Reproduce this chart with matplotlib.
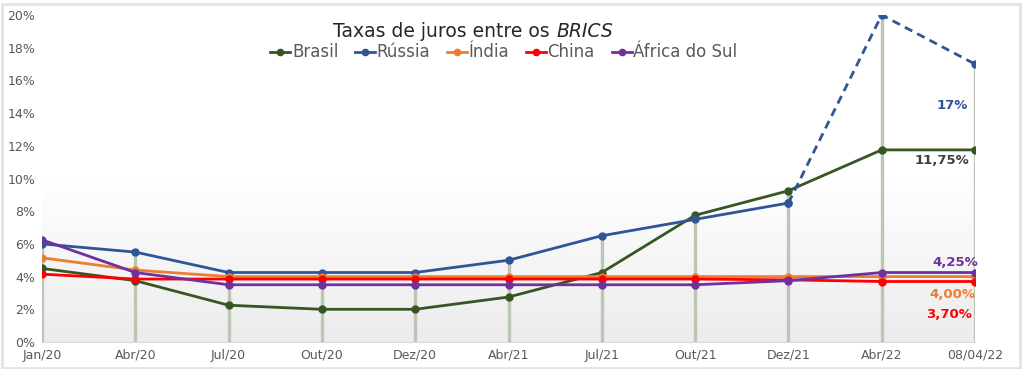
import numpy as np
import matplotlib.pyplot as plt
from matplotlib.patches import Rectangle

datas = ['Jan/20', 'Abr/20', 'Jul/20', 'Out/20', 'Dez/20', 'Abr/21',
         'Jul/21', 'Out/21', 'Dez/21', 'Abr/22', '08/04/22']
brasil = [4.5, 3.75, 2.25, 2.0, 2.0, 2.75, 4.25, 7.75, 9.25, 11.75, 11.75]
russia = [6.0, 5.5, 4.25, 4.25, 4.25, 5.0, 6.5, 7.5, 8.5, 20.0, 17.0]
india = [5.15, 4.4, 4.0, 4.0, 4.0, 4.0, 4.0, 4.0, 4.0, 4.0, 4.0]
china = [4.15, 3.85, 3.85, 3.85, 3.85, 3.85, 3.85, 3.85, 3.8, 3.7, 3.7]
africa = [6.25, 4.25, 3.5, 3.5, 3.5, 3.5, 3.5, 3.5, 3.75, 4.25, 4.25]

cores = {'Brasil': '#375623', 'Rússia': '#2F5597', 'Índia': '#ED7D31',
         'China': '#FF0000', 'África do Sul': '#7030A0'}

x = np.arange(len(datas))

fig = plt.figure(figsize=(10.24, 3.69), dpi=100)
ax = fig.add_axes([42/1024, 27/369, 933/1024, 327/369])

# fundo em gradiente
grad = np.linspace(0, 1, 256).reshape(-1, 1)
ax.imshow(grad, extent=[0, len(datas)-1, 0, 20], aspect='auto',
          cmap=plt.matplotlib.colors.LinearSegmentedColormap.from_list('g', ['#ffffff', '#ffffff', '#ececec']),
          origin='upper', zorder=0)

# linhas verticais até o maior valor
topo = np.max([brasil, russia, india, china, africa], axis=0)
ax.vlines(x, 0, topo, color='#bcc6b4', lw=2.4, zorder=1)

ax.plot(x, brasil, color=cores['Brasil'], marker='o', ms=5, lw=2, label='Brasil', zorder=3)
ax.plot(x[:9], russia[:9], color=cores['Rússia'], marker='o', ms=5, lw=2, label='Rússia', zorder=3)
ax.plot(x[8:], russia[8:], color=cores['Rússia'], marker='o', ms=5, lw=2, ls=(0, (3, 2)), zorder=3)
ax.plot(x, india, color=cores['Índia'], marker='o', ms=5, lw=2, label='Índia', zorder=3)
ax.plot(x, china, color=cores['China'], marker='o', ms=5, lw=2, label='China', zorder=3)
ax.plot(x, africa, color=cores['África do Sul'], marker='o', ms=5, lw=2, label='África do Sul', zorder=3)

ax.set_xlim(0, len(datas)-1)
ax.set_ylim(0, 20)
ax.set_xticks(x)
ax.set_xticklabels(datas)
ax.set_yticks(range(0, 21, 2))
ax.set_yticklabels([f'{v}%' for v in range(0, 21, 2)])
ax.tick_params(length=0, labelsize=9, labelcolor='#595959', pad=5)
for s in ['top', 'right', 'left']:
    ax.spines[s].set_visible(False)
ax.spines['bottom'].set_color('#d9d9d9')

# rótulos finais
ult = x[-1]
rotulos = [('17%', russia[-1], cores['Rússia'], (-5, -30)),
           ('11,75%', brasil[-1], '#404040', (-4, -8)),
           ('4,25%', africa[-1], cores['África do Sul'], (2, 7)),
           ('4,00%', india[-1], cores['Índia'], (0, -13)),
           ('3,70%', china[-1], cores['China'], (-2, -24))]
for txt, v, c, off in rotulos:
    ax.annotate(txt, (ult, v), xytext=off, textcoords='offset points',
                ha='right', va='center', color=c, fontsize=9.5, fontweight='bold')

fig.text(0.543, 0.915, 'Taxas de juros entre os ', ha='right', va='center', fontsize=13.5, color='#262626')
fig.text(0.543, 0.915, 'BRICS', ha='left', va='center', fontsize=13.5, color='#262626', style='italic')

leg = fig.legend(loc='center', bbox_to_anchor=(0.492, 0.858), ncol=5, frameon=False,
                 fontsize=12, handlelength=1.2, handletextpad=0.1, columnspacing=1.0,
                 labelcolor='#595959', markerscale=0.9)

fig.patches.append(Rectangle((0.002, 0.003), 0.994, 0.985, transform=fig.transFigure,
                             fill=False, edgecolor='#e3e3e3', lw=2))

fig.savefig('out.png', dpi=100)
